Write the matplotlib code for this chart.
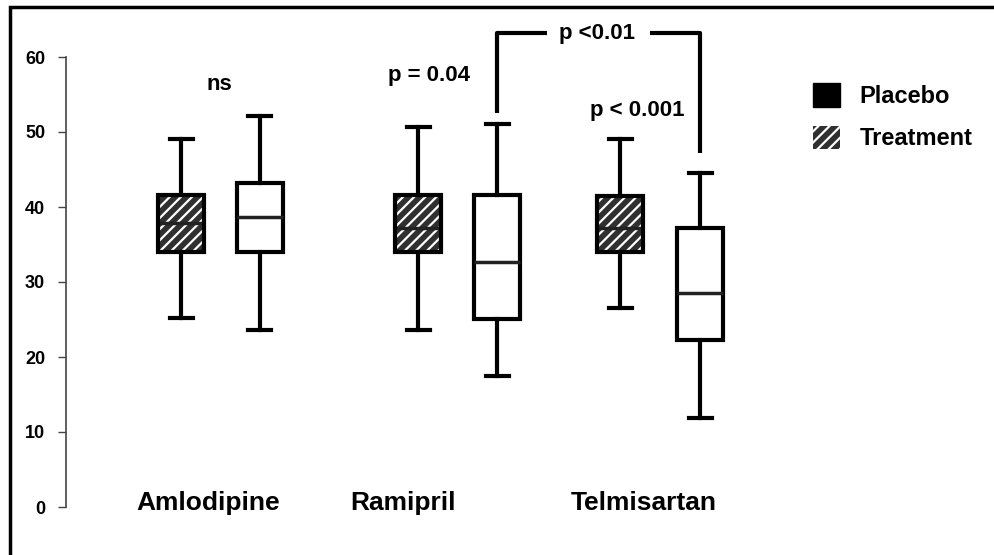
import matplotlib
matplotlib.use("Agg")
import matplotlib.pyplot as plt
from matplotlib.patches import Patch, Rectangle, PathPatch

plt.rcParams["font.family"] = ["Liberation Sans", "DejaVu Sans"]
plt.rcParams["font.weight"] = "bold"
plt.rcParams["hatch.linewidth"] = 1.6

# values
groups = ["Amlodipine", "Ramipril", "Telmisartan"]
placebo_lo = [25.2, 23.6, 26.5]
placebo_q1 = [34.0, 34.0, 34.0]
placebo_med = [37.9, 37.2, 37.2]
placebo_q3 = [41.6, 41.6, 41.5]
placebo_hi = [49.1, 50.7, 49.1]
treat_lo = [23.6, 17.5, 11.9]
treat_q1 = [34.0, 25.1, 22.3]
treat_med = [38.7, 32.7, 28.5]
treat_q3 = [43.2, 41.6, 37.2]
treat_hi = [52.1, 51.1, 44.5]
y_ticks = [0, 10, 20, 30, 40, 50, 60]

# layout (x in pixel-like units)
placebo_x = [181, 418, 620]
treat_x = [259.5, 497, 700]
label_x = [208, 403, 644]
box_w = 46
cap_w = 23


def make_stats(lo, q1, med, q3, hi):
    return [dict(whislo=a, q1=b, med=c, q3=d, whishi=e, fliers=[])
            for a, b, c, d, e in zip(lo, q1, med, q3, hi)]


fig = plt.figure(figsize=(9.94, 5.55), dpi=100)
ax = fig.add_axes([66 / 994, 48 / 555, 1 - 66 / 994, 450 / 555])
ax.set_xlim(66, 994)
ax.set_ylim(0, 60)

lw = 3.0
common = dict(widths=box_w, capwidths=cap_w, showfliers=False, patch_artist=True,
              whiskerprops=dict(color="black", linewidth=lw),
              capprops=dict(color="black", linewidth=lw))

bp_p = ax.bxp(make_stats(placebo_lo, placebo_q1, placebo_med, placebo_q3, placebo_hi),
              positions=placebo_x,
              boxprops=dict(facecolor="#303030", edgecolor="white", hatch="///", linewidth=0),
              medianprops=dict(color="#222222", linewidth=2.5), **common)
for box in bp_p["boxes"]:
    ax.add_patch(PathPatch(box.get_path(), transform=box.get_transform(),
                           fill=False, edgecolor="black", linewidth=lw, zorder=3))

ax.bxp(make_stats(treat_lo, treat_q1, treat_med, treat_q3, treat_hi),
       positions=treat_x,
       boxprops=dict(facecolor="white", edgecolor="black", linewidth=lw),
       medianprops=dict(color="#222222", linewidth=2.5), **common)

# axis styling
for s in ["top", "right", "bottom"]:
    ax.spines[s].set_visible(False)
ax.spines["left"].set_linewidth(1.2)
ax.spines["left"].set_color("#444444")
ax.set_yticks(y_ticks)
ax.tick_params(axis="y", length=6, width=1.0, color="#444444", labelsize=13, pad=9)
ax.tick_params(axis="x", bottom=False, labelbottom=False)
for t in ax.get_yticklabels():
    t.set_fontweight("bold")

for x, name in zip(label_x, groups):
    ax.text(x, 0.5, name, ha="center", va="center", fontsize=19, fontweight="bold",
            clip_on=False)

# significance annotations
ann = dict(ha="center", va="center", fontsize=16, fontweight="bold", clip_on=False)
ax.text(219, 56.3, "ns", **ann)
ax.text(429, 57.5, "p = 0.04", **ann)
ax.text(637, 52.9, "p < 0.001", **ann)
ax.text(597, 63.2, "p <0.01", **ann)
ax.plot([497, 497, 547], [52.5, 63.2, 63.2], color="black", linewidth=lw,
        clip_on=False, solid_capstyle="butt")
ax.plot([650, 700, 700], [63.2, 63.2, 47.2], color="black", linewidth=lw,
        clip_on=False, solid_capstyle="butt")

# legend
handles = [Patch(facecolor="black", edgecolor="black", label="Placebo"),
           Patch(facecolor="#303030", edgecolor="white", hatch="///", label="Treatment")]
leg = ax.legend(handles=handles, loc="upper left", bbox_to_anchor=(792 / 994, 1 - 62 / 555),
                bbox_transform=fig.transFigure, frameon=False, fontsize=17,
                handlelength=1.15, handleheight=1.15, handletextpad=0.8, labelspacing=0.75)
for t in leg.get_texts():
    t.set_fontweight("bold")
leg.legend_handles[1].set_linewidth(0)

# outer frame (extends past right and bottom edges)
fig.patches.append(Rectangle((10 / 994, -0.1), 1.2, 1.1 - 7 / 555, transform=fig.transFigure,
                             fill=False, edgecolor="black", linewidth=2.5))

fig.savefig("out.png", dpi=100)
